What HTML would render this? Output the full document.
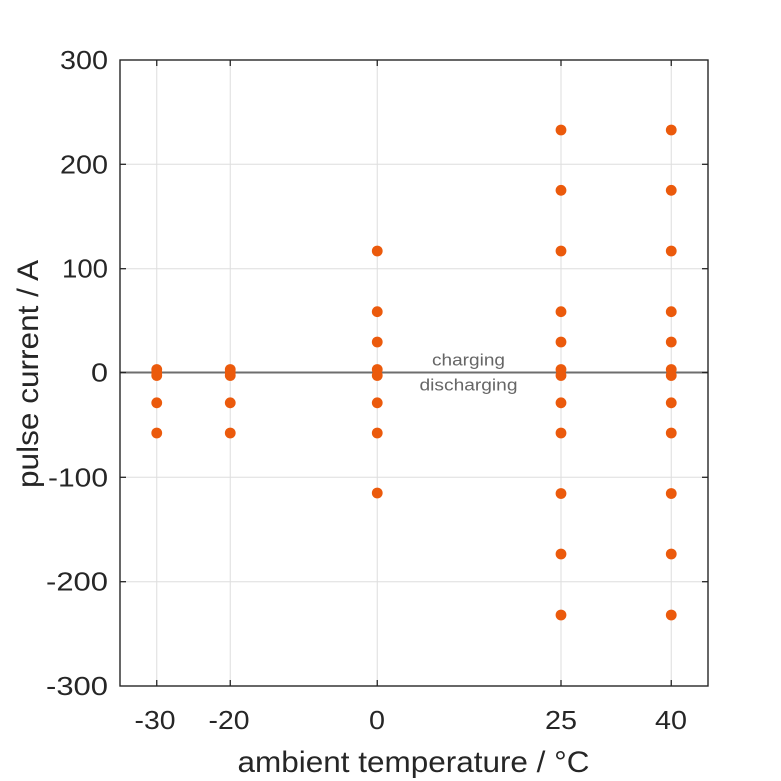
<!DOCTYPE html>
<html><head><meta charset="utf-8"><style>html,body{margin:0;padding:0;background:#fff}svg{display:block}</style></head>
<body>
<svg width="781" height="781" viewBox="0 0 781 781" xmlns="http://www.w3.org/2000/svg" font-family="'Liberation Sans', sans-serif">
<rect width="781" height="781" fill="#fff"/>
<!-- grid -->
<g stroke="#dedede" stroke-width="1">
<line x1="156.75" y1="60" x2="156.75" y2="686"/>
<line x1="230.25" y1="60" x2="230.25" y2="686"/>
<line x1="377.25" y1="60" x2="377.25" y2="686"/>
<line x1="561" y1="60" x2="561" y2="686"/>
<line x1="671.25" y1="60" x2="671.25" y2="686"/>
<line x1="120" y1="164.3" x2="708" y2="164.3"/>
<line x1="120" y1="268.7" x2="708" y2="268.7"/>
<line x1="120" y1="477.3" x2="708" y2="477.3"/>
<line x1="120" y1="581.7" x2="708" y2="581.7"/>
</g>
<!-- zero line -->
<line x1="120" y1="372.5" x2="708" y2="372.5" stroke="#6e6e6e" stroke-width="2"/>
<!-- ticks -->
<g stroke="#262626" stroke-width="1.3">
<line x1="156.75" y1="60" x2="156.75" y2="66"/><line x1="156.75" y1="686" x2="156.75" y2="680"/>
<line x1="230.25" y1="60" x2="230.25" y2="66"/><line x1="230.25" y1="686" x2="230.25" y2="680"/>
<line x1="377.25" y1="60" x2="377.25" y2="66"/><line x1="377.25" y1="686" x2="377.25" y2="680"/>
<line x1="561" y1="60" x2="561" y2="66"/><line x1="561" y1="686" x2="561" y2="680"/>
<line x1="671.25" y1="60" x2="671.25" y2="66"/><line x1="671.25" y1="686" x2="671.25" y2="680"/>
<line x1="120" y1="164.3" x2="126" y2="164.3"/><line x1="708" y1="164.3" x2="702" y2="164.3"/>
<line x1="120" y1="268.7" x2="126" y2="268.7"/><line x1="708" y1="268.7" x2="702" y2="268.7"/>
<line x1="120" y1="372.5" x2="126" y2="372.5"/><line x1="708" y1="372.5" x2="702" y2="372.5"/>
<line x1="120" y1="477.3" x2="126" y2="477.3"/><line x1="708" y1="477.3" x2="702" y2="477.3"/>
<line x1="120" y1="581.7" x2="126" y2="581.7"/><line x1="708" y1="581.7" x2="702" y2="581.7"/>
</g>
<rect x="120" y="60" width="588" height="626" fill="none" stroke="#262626" stroke-width="1.4"/>
<!-- points -->
<g fill="#eb5a0c">
<circle cx="156.75" cy="369.5" r="5.4"/><circle cx="156.75" cy="372.5" r="5.4"/><circle cx="156.75" cy="375.5" r="5.4"/>
<circle cx="156.75" cy="402.8" r="5.4"/><circle cx="156.75" cy="433" r="5.4"/>
<circle cx="230.25" cy="369.5" r="5.4"/><circle cx="230.25" cy="372.5" r="5.4"/><circle cx="230.25" cy="375.5" r="5.4"/>
<circle cx="230.25" cy="402.8" r="5.4"/><circle cx="230.25" cy="433" r="5.4"/>
<circle cx="377.25" cy="251" r="5.4"/><circle cx="377.25" cy="311.7" r="5.4"/><circle cx="377.25" cy="342" r="5.4"/>
<circle cx="377.25" cy="369.5" r="5.4"/><circle cx="377.25" cy="375.5" r="5.4"/>
<circle cx="377.25" cy="402.8" r="5.4"/><circle cx="377.25" cy="433" r="5.4"/><circle cx="377.25" cy="493" r="5.4"/>
<circle cx="561" cy="130" r="5.4"/><circle cx="561" cy="190.3" r="5.4"/><circle cx="561" cy="251" r="5.4"/>
<circle cx="561" cy="311.7" r="5.4"/><circle cx="561" cy="342" r="5.4"/>
<circle cx="561" cy="369.5" r="5.4"/><circle cx="561" cy="375.5" r="5.4"/>
<circle cx="561" cy="402.8" r="5.4"/><circle cx="561" cy="433" r="5.4"/><circle cx="561" cy="493.5" r="5.4"/>
<circle cx="561" cy="554" r="5.4"/><circle cx="561" cy="615" r="5.4"/>
<circle cx="671.25" cy="130" r="5.4"/><circle cx="671.25" cy="190.3" r="5.4"/><circle cx="671.25" cy="251" r="5.4"/>
<circle cx="671.25" cy="311.7" r="5.4"/><circle cx="671.25" cy="342" r="5.4"/>
<circle cx="671.25" cy="369.5" r="5.4"/><circle cx="671.25" cy="375.5" r="5.4"/>
<circle cx="671.25" cy="402.8" r="5.4"/><circle cx="671.25" cy="433" r="5.4"/><circle cx="671.25" cy="493.5" r="5.4"/>
<circle cx="671.25" cy="554" r="5.4"/><circle cx="671.25" cy="615" r="5.4"/>
</g>
<!-- annotations -->
<text x="468.5" y="365.5" font-size="17" fill="#666" text-anchor="middle" textLength="73" lengthAdjust="spacingAndGlyphs">charging</text>
<text x="468.5" y="390.5" font-size="17" fill="#666" text-anchor="middle" textLength="98" lengthAdjust="spacingAndGlyphs">discharging</text>
<!-- y tick labels -->
<g font-size="26" fill="#262626" text-anchor="end">
<text x="108" y="69" textLength="48" lengthAdjust="spacingAndGlyphs">300</text>
<text x="108" y="173.3" textLength="48" lengthAdjust="spacingAndGlyphs">200</text>
<text x="108" y="277.7" textLength="46" lengthAdjust="spacingAndGlyphs">100</text>
<text x="108" y="381.7" textLength="17" lengthAdjust="spacingAndGlyphs">0</text>
<text x="108" y="486.3" textLength="60" lengthAdjust="spacingAndGlyphs">-100</text>
<text x="108" y="590.7" textLength="62" lengthAdjust="spacingAndGlyphs">-200</text>
<text x="108" y="695" textLength="62" lengthAdjust="spacingAndGlyphs">-300</text>
</g>
<!-- x tick labels -->
<g font-size="26" fill="#262626" text-anchor="middle">
<text x="155" y="729" textLength="41" lengthAdjust="spacingAndGlyphs">-30</text>
<text x="229" y="729" textLength="41" lengthAdjust="spacingAndGlyphs">-20</text>
<text x="377" y="729" textLength="16" lengthAdjust="spacingAndGlyphs">0</text>
<text x="561" y="729" textLength="32" lengthAdjust="spacingAndGlyphs">25</text>
<text x="671" y="729" textLength="32" lengthAdjust="spacingAndGlyphs">40</text>
</g>
<!-- axis labels -->
<text x="413.5" y="772" font-size="30" fill="#262626" text-anchor="middle" textLength="352" lengthAdjust="spacingAndGlyphs">ambient temperature / °C</text>
<text transform="translate(38,374) rotate(-90)" x="0" y="0" font-size="30" fill="#262626" text-anchor="middle" textLength="228" lengthAdjust="spacingAndGlyphs">pulse current / A</text>
</svg>
</body></html>
